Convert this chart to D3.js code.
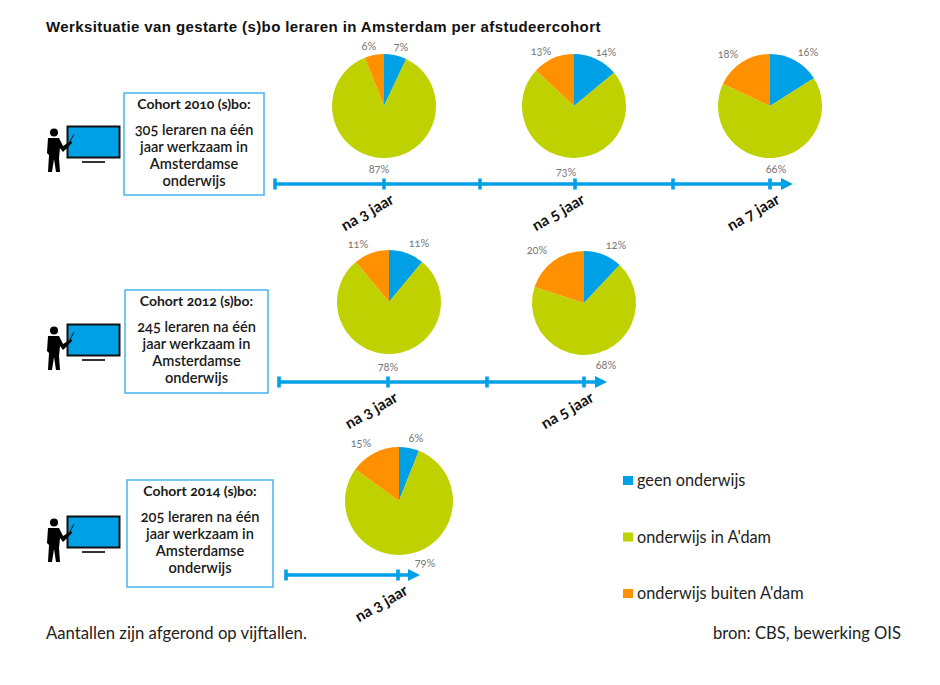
<!DOCTYPE html>
<html><head><meta charset="utf-8">
<script src="https://cdn.jsdelivr.net/npm/d3@7"></script>
<style>
html,body{margin:0;background:#fff}
svg{display:block}
text{font-family:Lato,"Open Sans",sans-serif;font-feature-settings:"onum" 1;font-variant-numeric:oldstyle-nums}
</style></head><body>
<svg id="c" width="940" height="685"></svg>
<script>
const title = "Werksituatie van gestarte (s)bo leraren in Amsterdam per afstudeercohort";
const categories = ["geen onderwijs", "onderwijs in A'dam", "onderwijs buiten A'dam"];
const colours = ["#00a0e6", "#bfd200", "#ff9100"];
const cohorts = ["Cohort 2010 (s)bo:", "Cohort 2012 (s)bo:", "Cohort 2014 (s)bo:"];
const teacherCounts = ["305", "245", "205"];
const waves = [[3, 5, 7], [3, 5], [3]];
const geen = [[7, 14, 16], [11, 12], [6]];
const inAdam = [[87, 73, 66], [78, 68], [79]];
const buiten = [[6, 13, 18], [11, 20], [15]];
const footLeft = "Aantallen zijn afgerond op vijftallen.";
const footRight = "bron: CBS, bewerking OIS";

// layout of each row
const rowLayout = [
 {axisY:184, yearX:[[2,275],[3,384],[4,480],[5,575],[6,673],[7,770]], tip:793, pieY:[106,106,106], r:[52,52,52], pieDx:[0,-1,0],
  box:[124,93,140,102], icon:[46,125],
  lab:[[[401,47],[369,46],[379,169]],[[606,52],[541,51],[566,172]],[[808,52],[728,54],[776,169]]]},
 {axisY:382, yearX:[[2,279],[3,388],[4,487],[5,584]], tip:607, pieY:[302,303], r:[52,52], pieDx:[1,0],
  box:[125,290,143,103], icon:[46,323],
  lab:[[[419,243],[358,244],[388,367]],[[616,245],[537,250],[606,365]]]},
 {axisY:575, yearX:[[2,286],[3,398]], tip:420, pieY:[501], r:[54], pieDx:[1],
  box:[127,480,146,107], icon:[46,515],
  lab:[[[416,438],[361,443],[425,563]]]}
];

const svg = d3.select("#c");
const blue = colours[0];
svg.append("text").attr("x",46).attr("y",32).attr("font-size",15).attr("font-weight",700)
  .attr("letter-spacing",0.4).style("font-family","Liberation Sans").attr("fill","#111").text(title);

const pie = d3.pie().sort(null).value(d=>d);
const arc = d3.arc().innerRadius(0);

rowLayout.forEach((L,i)=>{
  const x = d3.scaleLinear().domain(L.yearX.map(d=>d[0])).range(L.yearX.map(d=>d[1]));
  const g = svg.append("g");

  // info box
  const [bx,by,bw,bh]=L.box;
  g.append("rect").attr("x",bx).attr("y",by).attr("width",bw).attr("height",bh)
    .attr("fill","#fff").attr("stroke","#45b5ee").attr("stroke-width",1.5);
  const cx=bx+bw/2;
  const lines=[cohorts[i],null,teacherCounts[i]+" leraren na één","jaar werkzaam in","Amsterdamse","onderwijs"];
  const ly=[by+16,null,by+42,by+59,by+76,by+93];
  lines.forEach((t,k)=>{ if(t) g.append("text").attr("x",cx).attr("y",ly[k]).attr("text-anchor","middle")
     .attr("font-size",k==0?14:14.6).attr("font-weight",k==0?700:600).attr("fill","#1a1a1a").text(t); });

  // teacher icon
  const [ix,iy]=L.icon;
  const ic=g.append("g").attr("transform",`translate(${ix},${iy})`);
  ic.append("rect").attr("x",21.5).attr("y",1.5).attr("width",52).attr("height",31).attr("fill",blue).attr("stroke","#111").attr("stroke-width",2);
  ic.append("rect").attr("x",36).attr("y",36).attr("width",23).attr("height",2).attr("fill","#333");
  ic.append("circle").attr("cx",8).attr("cy",7.5).attr("r",4).attr("fill","#000");
  ic.append("path").attr("fill","#000").attr("d","M2,13 L13,13 L17,21 L25,16 L26,18 L17,27 L14,23 L13,33 L14,47 L10,47 L8,34 L6,47 L2,47 L3,30 L1,28 Z");
  ic.append("line").attr("x1",20).attr("y1",24).attr("x2",28).attr("y2",9).attr("stroke","#111").attr("stroke-width",1);

  // timeline
  const ax=g.append("g");
  ax.append("line").attr("x1",x(2)).attr("x2",L.tip-8).attr("y1",L.axisY).attr("y2",L.axisY).attr("stroke",blue).attr("stroke-width",3.6);
  ax.selectAll("line.t").data(L.yearX.map(d=>d[0])).join("line").attr("class","t")
    .attr("x1",d=>x(d)).attr("x2",d=>x(d)).attr("y1",L.axisY-5.5).attr("y2",L.axisY+5.5)
    .attr("stroke",blue).attr("stroke-width",3.6);
  ax.append("path").attr("fill",blue)
    .attr("d",`M${L.tip},${L.axisY} L${L.tip-12},${L.axisY-6} L${L.tip-12},${L.axisY+6} Z`);

  waves[i].forEach((w,j)=>{
    const px=x(w)+L.pieDx[j], py=L.pieY[j], r=L.r[j];
    const vals=[geen[i][j],inAdam[i][j],buiten[i][j]];
    const pg=g.append("g").attr("transform",`translate(${px},${py})`);
    pg.selectAll("path").data(pie(vals)).join("path")
      .attr("d",d=>arc.outerRadius(r)(d)).attr("fill",(d,k)=>colours[k]);
    // value labels: geen, buiten, in A'dam
    const lab=L.lab[j];
    [vals[0],vals[2],vals[1]].forEach((v,k)=>{
      g.append("text").attr("x",lab[k][0]).attr("y",lab[k][1]+4).attr("text-anchor","middle")
       .attr("font-size",11).attr("fill","#777").text(v+"%");
    });
    // wave label
    const tx=x(w)-14, ty=L.axisY+33;
    g.append("text").attr("transform",`translate(${tx},${ty}) rotate(-30)`).attr("text-anchor","middle")
      .attr("font-size",15.5).attr("font-weight",700).attr("fill","#111").text(`na ${w} jaar`);
  });
});

// legend
const legY=d3.scalePoint().domain(categories).range([481,594]);
const leg=svg.append("g").selectAll("g").data(categories).join("g").attr("transform",d=>`translate(623,${legY(d)})`);
leg.append("rect").attr("x",0).attr("y",-5).attr("width",10).attr("height",9).attr("fill",(d,i)=>colours[i]);
leg.append("text").attr("x",14).attr("y",5).attr("font-size",16.3).attr("fill","#222").text(d=>d);

svg.append("text").attr("x",46).attr("y",639).attr("font-size",16.7).attr("fill","#222").text(footLeft);
svg.append("text").attr("x",901).attr("y",639).attr("text-anchor","end").attr("font-size",16.6).attr("fill","#222").text(footRight);
</script></body></html>
